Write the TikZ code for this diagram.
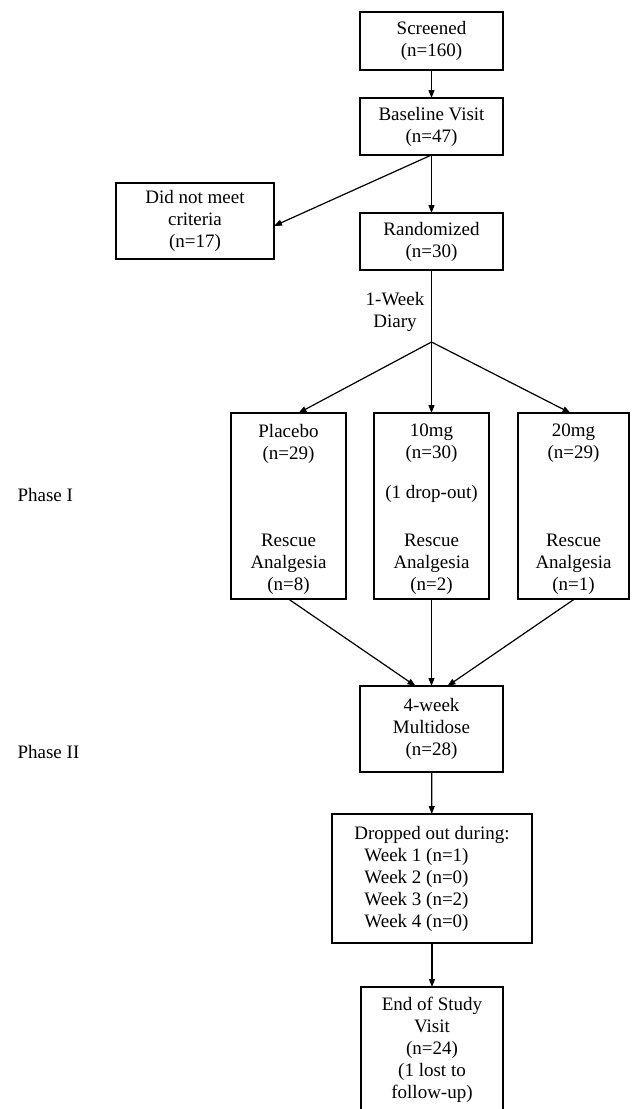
\documentclass[tikz,border=0pt]{standalone}
\usepackage{fontspec}
\setmainfont{Liberation Serif}
\usetikzlibrary{arrows.meta,calc}
\tikzset{
  box/.style={draw, inner sep=0pt, outer sep=0pt, minimum width=143pt, align=center},
  armbox/.style={draw, inner sep=0pt, outer sep=0pt, minimum width=115pt, minimum height=186pt},
  lbl/.style={align=center, inner sep=0pt},
}
\begin{document}
\begin{tikzpicture}[x=1pt, y=-1pt, line width=1.2pt, >={Triangle[length=8pt,width=6pt]},
    font=\fontsize{19}{22}\selectfont]
    \useasboundingbox (0,0) rectangle (634,1109);
    \clip (0,0) rectangle (634,1109);
    % top of the flow
    \node[box, minimum height=58pt] (screen) at (431.5,41) {Screened\\(n=160)};
    \node[box, minimum height=57pt] (base) at (431.5,126.5) {Baseline Visit\\(n=47)};
    \node[box, minimum height=76pt, minimum width=158pt] (fail) at (195,221) {Did not meet\\criteria\\(n=17)};
    \node[box, minimum height=57pt] (rand) at (431.5,241.5) {Randomized\\(n=30)};
    \node[lbl] (diary) at (395,312) {1-Week\\Diary};
    \coordinate (split) at (431.5,342);
    \draw[->] (screen) -- (base);
    \draw[->] (base.south) -- ($(fail.east)+(0,5)$);
    \draw[->] (base) -- (rand);
    \draw (rand) -- (split);
    % phase I arms
    \node[anchor=west, inner sep=0pt] (ph1) at (17,495) {Phase I};
    \node[armbox] (plac) at (288.5,506) {};
    \node[armbox] (low) at (431.5,506) {};
    \node[armbox, minimum width=111pt] (high) at (573.5,506) {};
    \node[lbl] (plactop) at (288.5,443.5) {Placebo\\(n=29)};
    \node[lbl] (lowtop) at (431.5,443.5) {10mg\\(n=30)};
    \node[lbl] (hightop) at (573.5,443.5) {20mg\\(n=29)};
    \node[lbl] (lowdrop) at (431.5,494) {(1 drop-out)};
    \node[lbl] (placres) at (288.5,564.5) {Rescue\\Analgesia\\(n=8)};
    \node[lbl] (lowres) at (431.5,564.5) {Rescue\\Analgesia\\(n=2)};
    \node[lbl] (highres) at (573.5,564.5) {Rescue\\Analgesia\\(n=1)};
    \draw[->] (split) -- ($(plac.north)+(10,0)$);
    \draw[->] (split) -- (low.north);
    \draw[->] (split) -- ($(high.north)+(-3,0)$);
    % phase II
    \node[anchor=west, inner sep=0pt] (ph2) at (17,752) {Phase II};
    \node[box, minimum height=86pt] (multi) at (431.5,729) {4-week\\Multidose\\(n=28)};
    \draw[->] (plac.south) -- ($(multi.north)+(-16,0)$);
    \draw[->] (low.south) -- (multi.north);
    \draw[->] ($(high.south)+(1,0)$) -- ($(multi.north)+(16,0)$);
    \node[box, minimum height=129pt, minimum width=200pt, align=left] (drop) at (432,878.5)
        {Dropped out during:\\\hspace{10pt}Week 1 (n=1)\\\hspace{10pt}Week 2 (n=0)\\\hspace{10pt}Week 3 (n=2)\\\hspace{10pt}Week 4 (n=0)};
    \node[box, minimum height=125pt, minimum width=142pt] (end) at (432,1049.5)
        {End of Study\\Visit\\(n=24)\\(1 lost to\\follow-up)};
    \draw[->] (multi) -- (drop);
    \draw[->] (drop) -- (end);
\end{tikzpicture}
\end{document}
